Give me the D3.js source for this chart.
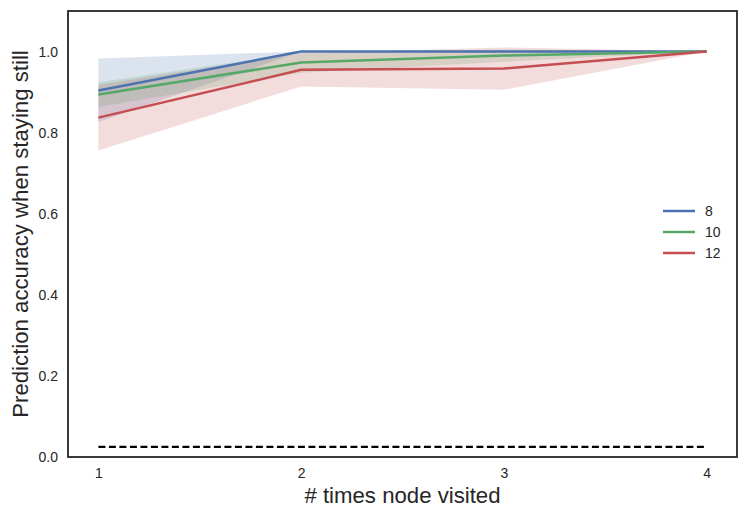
<!DOCTYPE html>
<html>
<head>
<meta charset="utf-8">
<script src="https://cdn.jsdelivr.net/npm/d3@7"></script>
<style>
  body { margin: 0; background: #fff; }
  text { font-family: "Liberation Sans", Arial, sans-serif; fill: #262626; }
</style>
</head>
<body>
<div id="chart-area"></div>
<script>
// data
let visits = [1, 2, 3, 4];
let groups = ["8", "10", "12"];
let colors = ["#4c72b0", "#55a868", "#c44e52"];

let mean8 = [0.904, 1.0, 1.0, 1.0];
let low8 = [0.826, 1.0, 1.0, 1.0];
let high8 = [0.983, 1.0, 1.0, 1.0];

let mean10 = [0.894, 0.973, 0.990, 1.0];
let low10 = [0.864, 0.948, 0.975, 1.0];
let high10 = [0.924, 0.998, 1.005, 1.0];

let mean12 = [0.837, 0.955, 0.958, 1.0];
let low12 = [0.756, 0.914, 0.906, 1.0];
let high12 = [0.918, 0.996, 1.010, 1.0];

let chanceLevel = 0.025;

let xTicks = [1, 2, 3, 4];
let yTicks = [0, 0.2, 0.4, 0.6, 0.8, 1.0];

let series = [
    {name: groups[0], mean: mean8, low: low8, high: high8, color: colors[0]},
    {name: groups[1], mean: mean10, low: low10, high: high10, color: colors[1]},
    {name: groups[2], mean: mean12, low: low12, high: high12, color: colors[2]}
];

let W = 747, H = 519;
let margin = {top: 11, right: 10, bottom: 62, left: 68};
let width = W - margin.left - margin.right,
    height = H - margin.top - margin.bottom;

let svg = d3.select("#chart-area").append("svg")
    .attr("width", W)
    .attr("height", H)
    .append("g")
    .attr("transform", "translate(" + margin.left + "," + margin.top + ")");

let x = d3.scaleLinear().domain([0.85, 4.15]).range([0, width]);
let y = d3.scaleLinear().domain([0, 1.1]).range([height, 0]);

// bands
let area = d3.area()
    .x(d => x(d.v))
    .y0(d => y(d.lo))
    .y1(d => y(d.hi));

let line = d3.line()
    .x(d => x(d.v))
    .y(d => y(d.m));

series.forEach(function (s) {
    let pts = visits.map((v, i) => ({v: v, lo: s.low[i], hi: s.high[i], m: s.mean[i]}));
    svg.append("path")
        .datum(pts)
        .attr("d", area)
        .attr("fill", s.color)
        .attr("fill-opacity", 0.2)
        .attr("stroke", "none");
});

series.forEach(function (s) {
    let pts = visits.map((v, i) => ({v: v, m: s.mean[i]}));
    svg.append("path")
        .datum(pts)
        .attr("d", line)
        .attr("fill", "none")
        .attr("stroke", s.color)
        .attr("stroke-width", 2.5);
});

// chance line
svg.append("line")
    .attr("x1", x(visits[0]))
    .attr("x2", x(visits[visits.length - 1]))
    .attr("y1", y(chanceLevel))
    .attr("y2", y(chanceLevel))
    .attr("stroke", "#000")
    .attr("stroke-width", 2.2)
    .attr("stroke-dasharray", "7,3.5");

// axes
let xAxis = d3.axisBottom(x).tickValues(xTicks).tickSize(0).tickPadding(11).tickFormat(d3.format("d"));
let yAxis = d3.axisLeft(y).tickValues(yTicks).tickSize(0).tickPadding(10).tickFormat(d3.format(".1f"));

svg.append("g")
    .attr("transform", "translate(0," + height + ")")
    .call(xAxis)
    .call(g => g.select(".domain").remove())
    .selectAll("text").style("font-size", "14px").attr("fill", "#262626");

svg.append("g")
    .call(yAxis)
    .call(g => g.select(".domain").remove())
    .selectAll("text").style("font-size", "14px").attr("fill", "#262626");

// frame
svg.append("rect")
    .attr("x", 0).attr("y", 0)
    .attr("width", width).attr("height", height)
    .attr("fill", "none")
    .attr("stroke", "#262626")
    .attr("stroke-width", 1.8);

// axis labels
svg.append("text")
    .attr("x", width / 2)
    .attr("y", height + 46)
    .attr("text-anchor", "middle")
    .style("font-size", "22.2px")
    .text("# times node visited");

svg.append("text")
    .attr("transform", "translate(" + (-40) + "," + (height / 2) + ") rotate(-90)")
    .attr("text-anchor", "middle")
    .style("font-size", "22.2px")
    .text("Prediction accuracy when staying still");

// legend
let legend = svg.append("g")
    .attr("transform", "translate(" + (663 - margin.left) + "," + (211 - margin.top) + ")");

series.forEach(function (s, i) {
    legend.append("line")
        .attr("x1", 0).attr("x2", 32)
        .attr("y1", i * 21).attr("y2", i * 21)
        .attr("stroke", s.color)
        .attr("stroke-width", 2.5);
    legend.append("text")
        .attr("x", 42)
        .attr("y", i * 21)
        .attr("dy", "0.35em")
        .style("font-size", "14px")
        .text(s.name);
});
</script>
</body>
</html>
